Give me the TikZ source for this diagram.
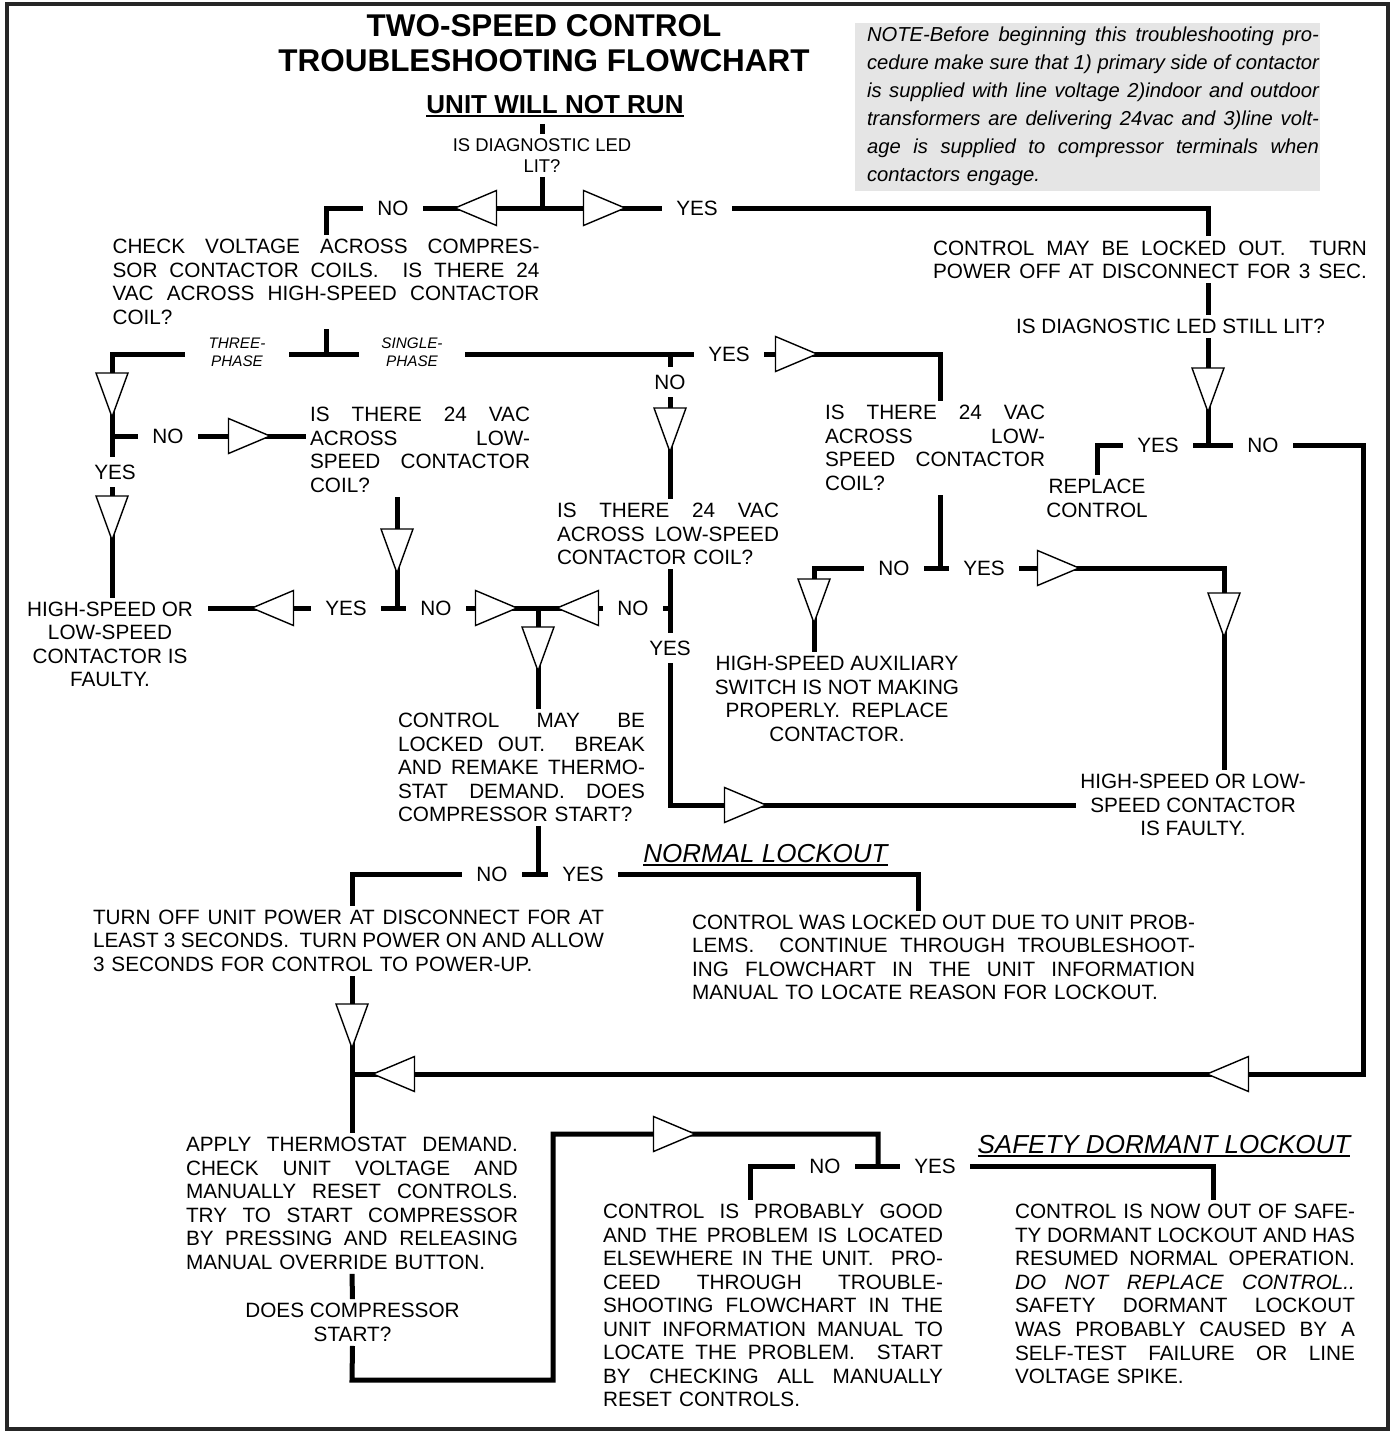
\documentclass[tikz,border=0pt]{standalone}
\usepackage{fontspec}
\setmainfont{Liberation Sans}
\newcommand{\bodyfont}{\fontsize{11.8}{13.4}\selectfont}
\newcommand{\smallfont}{\fontsize{10.5}{12}\selectfont}
\newcommand{\notefont}{\fontsize{11.5}{15.9}\selectfont\itshape}
\newcommand{\phasefont}{\fontsize{8.7}{10.2}\selectfont\itshape}
\newcommand{\titlefont}{\fontsize{17.9}{19.9}\selectfont\bfseries}
\newcommand{\headfont}{\fontsize{14.8}{17}\selectfont}
% justified line / justified last line
\newcommand{\jf}[1]{\leavevmode\hbox to\hsize{\spaceskip=0.278em plus 1fil minus 0.1em\xspaceskip=\spaceskip #1}}
\newcommand{\jl}[1]{\jf{#1}\\}
\newcommand{\hdul}[1]{\setbox0\hbox{#1}\rlap{\rule[-2.2pt]{\wd0}{1pt}}\box0}
\tikzset{
    % Lines & heads
    flow/.style={line width=0.1cm},
    tri/.style={draw=black, fill=white, line width=0.8pt},
    tril/.pic={\draw[tri] (0,0) -- (41.5,-17.5) -- (41.5,17.5) -- cycle;},
    trir/.pic={\draw[tri] (0,0) -- (-41.5,-17.5) -- (-41.5,17.5) -- cycle;},
    trid/.pic={\draw[tri] (0,0) -- (-16,-44) -- (16,-44) -- cycle;},
    % Texts
    txt/.style={inner sep=0.08cm, align=left, font=\bodyfont, text width=#1},
    ctr/.style={inner sep=0.08cm, align=center, font=\bodyfont},
    lbl/.style={fill=white, inner xsep=0.28cm, inner ysep=0.16cm, font=\bodyfont},
    phase/.style={fill=white, inner ysep=0.1cm, align=center, font=\phasefont}
}

\begin{document}
\begin{tikzpicture}[x=0.02cm, y=-0.02cm]
\useasboundingbox (0,0) rectangle (1395,1433);
\draw[line width=0.08cm, black!85] (7,4) rectangle (1388,1429);

% Headings
\node[font=\titlefont, align=center] (title) at (544,43.5) {TWO-SPEED CONTROL\\TROUBLESHOOTING FLOWCHART};
\node[font=\headfont\bfseries, anchor=base] (unit) at (555,113) {\hdul{UNIT WILL NOT RUN}};
\node[font=\headfont\itshape, anchor=base] (normalhd) at (765.5,862) {\hdul{NORMAL LOCKOUT}};
\node[font=\headfont\itshape, anchor=base] (safehd) at (1164,1153) {\hdul{SAFETY DORMANT LOCKOUT}};
\fill[gray!20] (855,23) rectangle (1320,191);
\node[txt=9.04cm, font=\notefont] (note) at (1093,106) {%
\jl{NOTE-Before beginning this troubleshooting pro-}
\jl{cedure make sure that 1) primary side of contactor}
\jl{is supplied with line voltage 2)indoor and outdoor}
\jl{transformers are delivering 24vac and 3)line volt-}
\jl{age is supplied to compressor terminals when}
contactors engage.};

% Steps
\node[ctr, font=\smallfont] (diag) at (542,155.5) {IS DIAGNOSTIC LED\\LIT?};
\node[txt=8.54cm] (check) at (326,282) {%
\jl{CHECK VOLTAGE ACROSS COMPRES-}
\jl{SOR CONTACTOR COILS.\ \ IS THERE 24}
\jl{VAC ACROSS HIGH-SPEED CONTACTOR}
COIL?};
\node[txt=8.68cm] (locked) at (1150,259.75) {%
\jl{CONTROL MAY BE LOCKED OUT.\ \ TURN}
\jf{POWER OFF AT DISCONNECT FOR 3 SEC.}};
\node[ctr] (still) at (1170.5,326.5) {IS DIAGNOSTIC LED STILL LIT?};
\node[ctr] (replace) at (1097,498.5) {REPLACE\\CONTROL};
\node[txt=4.4cm] (q2) at (420,450) {%
\jl{IS THERE 24 VAC}
\jl{ACROSS LOW-}
\jl{SPEED CONTACTOR}
COIL?};
\node[txt=4.44cm] (q3) at (668,534) {%
\jl{IS THERE 24 VAC}
\jl{ACROSS LOW-SPEED}
CONTACTOR COIL?};
\node[txt=4.4cm] (q4) at (935,448) {%
\jl{IS THERE 24 VAC}
\jl{ACROSS LOW-}
\jl{SPEED CONTACTOR}
COIL?};
\node[ctr, inner xsep=0.3cm] (fault1) at (110,644.5) {HIGH-SPEED OR\\LOW-SPEED\\CONTACTOR IS\\FAULTY.};
\node[ctr] (aux) at (837,699) {HIGH-SPEED AUXILIARY\\SWITCH IS NOT MAKING\\PROPERLY.\ \ REPLACE\\CONTACTOR.};
\node[ctr] (fault2) at (1193,805) {HIGH-SPEED OR LOW-\\SPEED CONTACTOR\\IS FAULTY.};
\node[txt=4.94cm] (ctrl) at (521.5,767.5) {%
\jl{CONTROL MAY BE}
\jl{LOCKED OUT.\ \ BREAK}
\jl{AND REMAKE THERMO-}
\jl{STAT DEMAND. DOES}
COMPRESSOR START?};
\node[txt=10.22cm] (turnoff) at (348.5,940.75) {%
\jl{TURN OFF UNIT POWER AT DISCONNECT FOR AT}
\jl{LEAST 3 SECONDS.\ \ TURN POWER ON AND ALLOW}
3 SECONDS FOR CONTROL TO POWER-UP.};
\node[txt=10.06cm] (normal) at (943.5,957.5) {%
\jl{CONTROL WAS LOCKED OUT DUE TO UNIT PROB-}
\jl{LEMS.\ \ CONTINUE THROUGH TROUBLESHOOT-}
\jl{ING FLOWCHART IN THE UNIT INFORMATION}
MANUAL TO LOCATE REASON FOR LOCKOUT.};
\node[txt=6.64cm] (apply) at (352,1203.3) {%
\jl{APPLY THERMOSTAT DEMAND.}
\jl{CHECK UNIT VOLTAGE AND}
\jl{MANUALLY RESET CONTROLS.}
\jl{TRY TO START COMPRESSOR}
\jl{BY PRESSING AND RELEASING}
MANUAL OVERRIDE BUTTON.};
\node[ctr] (does) at (352.5,1322.5) {DOES COMPRESSOR\\START?};
\node[txt=6.8cm] (good) at (773,1305.5) {%
\jl{CONTROL IS PROBABLY GOOD}
\jl{AND THE PROBLEM IS LOCATED}
\jl{ELSEWHERE IN THE UNIT.\ \ PRO-}
\jl{CEED THROUGH TROUBLE-}
\jl{SHOOTING FLOWCHART IN THE}
\jl{UNIT INFORMATION MANUAL TO}
\jl{LOCATE THE PROBLEM.\ \ START}
\jl{BY CHECKING ALL MANUALLY}
RESET CONTROLS.};
\node[txt=6.8cm] (safe) at (1185,1294) {%
\jl{CONTROL IS NOW OUT OF SAFE-}
\jl{TY DORMANT LOCKOUT AND HAS}
\jl{RESUMED NORMAL OPERATION.}
\jl{\itshape DO NOT REPLACE CONTROL..}
\jl{SAFETY DORMANT LOCKOUT}
\jl{WAS PROBABLY CAUSED BY A}
\jl{SELF-TEST FAILURE OR LINE}
VOLTAGE SPIKE.};

% Junctions and corners
\coordinate (stub) at (542,124);
\coordinate (jtop) at (542,208);
\coordinate (kR) at (1208,208);
\coordinate (j2) at (1208,445);
\coordinate (kE) at (1363,445);
\coordinate (jphase) at (326,354);
\coordinate (k3) at (112,354);
\coordinate (j10) at (112,436);
\coordinate (jno) at (670,354);
\coordinate (k1) at (940,354);
\coordinate (j4) at (940,568);
\coordinate (k4L) at (814,568);
\coordinate (k4R) at (1224,568);
\coordinate (j6) at (397,608);
\coordinate (jmid) at (538,608);
\coordinate (j3) at (670,608);
\coordinate (k5) at (670,805);
\coordinate (j7) at (538,874);
\coordinate (k7L) at (352,874);
\coordinate (k7R) at (918,874);
\coordinate (jret) at (352,1074);
\coordinate (kB1) at (352,1380);
\coordinate (kB2) at (553,1380);
\coordinate (kB3) at (553,1134);
\coordinate (j9) at (878,1166);
\coordinate (k9L) at (750,1166);
\coordinate (k9R) at (1213,1166);

% Connectors
\draw[flow] (stub) -- (diag.north);
\draw[flow] (diag) -- (jtop);
\draw[flow] (jtop) -| (check.north);
\draw[flow] (jtop) -- (kR) -- (kR |- locked.north);
\draw[flow] (kR |- locked.south) -- (kR |- still.north);
\draw[flow] (kR |- still.south) -- (j2);
\draw[flow] (j2) -| (replace.north);
\draw[flow] (j2) -- (kE) |- (jret);
\draw[flow] (check.south) -- (jphase);
\draw[flow] (jphase) -- (k3) -- (j10);
\draw[flow] (j10) -- (j10 |- fault1.north);
\draw[flow] (j10) -- (j10 -| q2.west);
\draw[flow] (jphase) -- (k1) -- (k1 |- q4.north);
\draw[flow] (jno) -- (jno |- q3.north);
\draw[flow] (k1 |- q4.south) -- (j4);
\draw[flow] (j4) -- (k4L) -- (k4L |- aux.north);
\draw[flow] (j4) -- (k4R) -- (k4R |- fault2.north);
\draw[flow] (j6 |- q2.south) -- (j6);
\draw[flow] (j6) -- (j6 -| fault1.east);
\draw[flow] (j6) -- (jmid);
\draw[flow] (jno |- q3.south) -- (k5) -- (k5 -| fault2.west);
\draw[flow] (j3) -- (jmid);
\draw[flow] (jmid) -- (jmid |- ctrl.north);
\draw[flow] (jmid |- ctrl.south) -- (j7);
\draw[flow] (j7) -- (k7L) -- (k7L |- turnoff.north);
\draw[flow] (j7) -- (k7R) -- (k7R |- normal.north);
\draw[flow] (k7L |- turnoff.south) -- (jret);
\draw[flow] (jret) -- (jret |- apply.north);
\draw[flow] (apply.south) -- (does.north);
\draw[flow] (does.south) -- (kB1) -- (kB2) -- (kB3) -| (j9);
\draw[flow] (j9) -- (k9L) -- (k9L |- good.north);
\draw[flow] (j9) -- (k9R) -- (k9R |- safe.north);

% Heads
\pic at (455,208) {tril};
\pic at (625,208) {trir};
\pic at (1208,412) {trid};
\pic at (817,354) {trir};
\pic at (670,452) {trid};
\pic at (112,417) {trid};
\pic at (270,436) {trir};
\pic at (112,540) {trid};
\pic at (397,573) {trid};
\pic at (252,608) {tril};
\pic at (517,608) {trir};
\pic at (557,608) {tril};
\pic at (538,671) {trid};
\pic at (814,623) {trid};
\pic at (1079,568) {trir};
\pic at (1224,637) {trid};
\pic at (766,805) {trir};
\pic at (352,1048) {trid};
\pic at (373,1074) {tril};
\pic at (1207,1074) {tril};
\pic at (695,1134) {trir};

% Labels
\node[lbl] (no1) at (393,208) {NO};
\node[lbl] (yes1) at (697,208) {YES};
\node[phase, inner xsep=0.48cm] (three) at (237,352) {THREE-\\PHASE};
\node[phase, inner xsep=0.44cm] (single) at (412,352) {SINGLE-\\PHASE};
\node[lbl] (yes2) at (729,354) {YES};
\node[lbl] (no2) at (670,382) {NO};
\node[lbl] (no3) at (168,436) {NO};
\node[lbl] (yes3) at (115,472) {YES};
\node[lbl] (yes4) at (346,608) {YES};
\node[lbl] (no4) at (436,608) {NO};
\node[lbl] (no5) at (633,608) {NO};
\node[lbl] (yes5) at (670,648) {YES};
\node[lbl] (no6) at (894,568) {NO};
\node[lbl] (yes6) at (984,568) {YES};
\node[lbl] (yes7) at (1158,445) {YES};
\node[lbl] (no7) at (1263,445) {NO};
\node[lbl] (no8) at (492,874) {NO};
\node[lbl] (yes8) at (583,874) {YES};
\node[lbl] (no9) at (825,1166) {NO};
\node[lbl] (yes9) at (935,1166) {YES};

\end{tikzpicture}
\end{document}
